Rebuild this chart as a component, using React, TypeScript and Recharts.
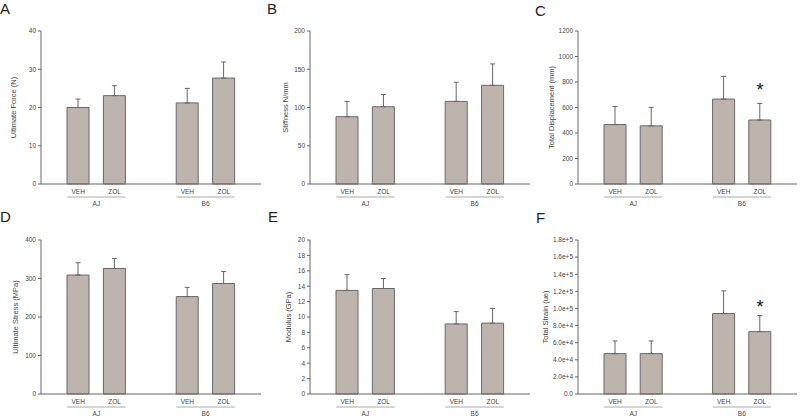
import React from 'react';
import { BarChart, Bar, XAxis, YAxis, ErrorBar, ReferenceDot } from 'recharts';

const groups = ['AJ', 'B6'];
const treatments = ['VEH', 'ZOL'];

const forceMean = [20.0, 23.1, 21.2, 27.7];
const forceErr = [2.2, 2.6, 3.8, 4.2];
const stiffMean = [88, 101, 108, 129];
const stiffErr = [20, 16, 25, 28];
const dispMean = [466, 456, 666, 502];
const dispErr = [142, 145, 178, 130];
const dispStar = [null, null, null, 770];
const stressMean = [309, 326, 253, 287];
const stressErr = [32, 26, 24, 31];
const modMean = [13.45, 13.7, 9.1, 9.2];
const modErr = [2.05, 1.3, 1.6, 1.9];
const strainMean = [47200, 47200, 94000, 72900];
const strainErr = [14800, 14800, 26500, 18800];
const strainStar = [null, null, null, 106400];

const forceTicks = [0, 10, 20, 30, 40];
const stiffTicks = [0, 50, 100, 150, 200];
const dispTicks = [0, 200, 400, 600, 800, 1000, 1200];
const stressTicks = [0, 100, 200, 300, 400];
const modTicks = [0, 2, 4, 6, 8, 10, 12, 14, 16, 18, 20];
const strainTicks = [0, 20000, 40000, 60000, 80000, 100000, 120000, 140000, 160000, 180000];

const FONT = '"Liberation Sans", Arial, sans-serif';
const BAR_FILL = '#bdb4ad';
const BAR_STROKE = '#6b6764';
const AXIS = '#666';
const TEXT = '#444';
const PAD = 19;

const buildRows = (means: number[], errs: number[], stars?: (number | null)[]) => {
  const rows: any[] = [];
  groups.forEach((g, gi) => {
    if (gi > 0) rows.push({ key: 'gap' });
    treatments.forEach((t, ti) => {
      const i = gi * treatments.length + ti;
      rows.push({
        key: `${g}|${t}`,
        mean: means[i],
        err: [0, errs[i]],
        star: stars ? stars[i] : null,
      });
    });
  });
  return rows;
};

const GroupTick = (props: any) => {
  const { x, y, payload, band } = props;
  const [g, t] = String(payload.value).split('|');
  if (!t) return null;
  const first = t === treatments[0];
  return (
    <g>
      <text x={x} y={y + 10} textAnchor="middle" fontSize={6.5} fill={TEXT} fontFamily={FONT}>
        {t}
      </text>
      <line
        x1={first ? x - 11 : x - band / 2}
        x2={first ? x + band / 2 : x + 11}
        y1={y + 13}
        y2={y + 13}
        stroke="#aaa"
        strokeWidth={1}
      />
      {first && (
        <text x={x + band / 2} y={y + 21.5} textAnchor="middle" fontSize={6.5} fill={TEXT} fontFamily={FONT}>
          {g}
        </text>
      )}
    </g>
  );
};

const AxisTitle = (props: any) => {
  const { viewBox, text, dist } = props;
  const cx = viewBox.x + dist;
  const cy = viewBox.y + viewBox.height / 2;
  return (
    <text
      x={cx}
      y={cy}
      transform={`rotate(-90 ${cx} ${cy})`}
      textAnchor="middle"
      dominantBaseline="central"
      fontSize={7.5}
      fill={TEXT}
      fontFamily={FONT}
    >
      {text}
    </text>
  );
};

const StarShape = (props: any) => (
  <text x={props.cx} y={props.cy + 10} textAnchor="middle" fontSize={18} fill="#111" fontFamily={FONT}>
    *
  </text>
);

type PanelProps = {
  letter: string;
  yLabel: string;
  means: number[];
  errs: number[];
  stars?: (number | null)[];
  ticks: number[];
  left: number;
  top: number;
  plotW: number;
  height: number;
  marginTop: number;
  xAxisH: number;
  labelDist: number;
  letterX: number;
  letterY: number;
  fmt?: (v: number) => string;
};

const Panel = (p: PanelProps) => {
  const data = buildRows(p.means, p.errs, p.stars);
  const band = (p.plotW - 2 * PAD) / 5;
  const width = 40 + p.plotW + 1;
  return (
    <>
      <div
        style={{
          position: 'absolute',
          left: p.letterX,
          top: p.letterY,
          fontSize: 15,
          fontFamily: FONT,
          color: '#222',
          lineHeight: '15px',
        }}
      >
        {p.letter}
      </div>
      <div style={{ position: 'absolute', left: p.left, top: p.top }}>
        <BarChart
          width={width}
          height={p.height}
          data={data}
          margin={{ top: p.marginTop, right: 1, bottom: 0, left: 0 }}
        >
          <XAxis
            dataKey="key"
            interval={0}
            tickLine={false}
            tickSize={0}
            tickMargin={0}
            height={p.xAxisH}
            padding={{ left: PAD, right: PAD }}
            axisLine={{ stroke: AXIS }}
            tick={(tp: any) => <GroupTick {...tp} band={band} />}
          />
          <YAxis
            width={40}
            domain={[0, p.ticks[p.ticks.length - 1]]}
            ticks={p.ticks}
            interval={0}
            tickSize={3}
            tickMargin={2}
            axisLine={{ stroke: AXIS }}
            tickLine={{ stroke: AXIS }}
            tickFormatter={p.fmt}
            tick={{ fontSize: 6.5, fill: TEXT, fontFamily: FONT }}
            label={<AxisTitle text={p.yLabel} dist={p.labelDist} />}
          />
          <Bar
            dataKey="mean"
            fill={BAR_FILL}
            stroke={BAR_STROKE}
            strokeWidth={1}
            barSize={22}
            isAnimationActive={false}
          >
            <ErrorBar dataKey="err" width={2.5} stroke="#666" strokeWidth={1} direction="y" />
          </Bar>
          {data
            .filter((r) => r.star != null)
            .map((r) => (
              <ReferenceDot key={r.key} x={r.key} y={r.star} r={0} shape={StarShape} />
            ))}
        </BarChart>
      </div>
    </>
  );
};

const sciFmt = (v: number) => (v === 0 ? '0.0' : v.toExponential(1));

export default function App() {
  const top = { top: 0, height: 210, marginTop: 31, xAxisH: 26 };
  const bot = { top: 205, height: 212, marginTop: 35, xAxisH: 23 };
  return (
    <div style={{ position: 'absolute', left: 0, top: 0, width: 800, height: 417, background: '#fff' }}>
      <Panel letter="A" yLabel="Ultimate Force (N)" means={forceMean} errs={forceErr} ticks={forceTicks}
        left={1} plotW={220} labelDist={12.3} letterX={0} letterY={1} {...top} />
      <Panel letter="B" yLabel="Stiffness N/mm" means={stiffMean} errs={stiffErr} ticks={stiffTicks}
        left={270} plotW={220} labelDist={15.7} letterX={267} letterY={1} {...top} />
      <Panel letter="C" yLabel="Total Displacement (mm)" means={dispMean} errs={dispErr} stars={dispStar}
        ticks={dispTicks} left={538} plotW={219} labelDist={13.7} letterX={535} letterY={3} {...top} />
      <Panel letter="D" yLabel="Ultimate Stress (MPa)" means={stressMean} errs={stressErr} ticks={stressTicks}
        left={1} plotW={220} labelDist={14} letterX={0} letterY={209} {...bot} />
      <Panel letter="E" yLabel="Modulus (GPa)" means={modMean} errs={modErr} ticks={modTicks}
        left={270} plotW={220} labelDist={18.3} letterX={268} letterY={209} {...bot} />
      <Panel letter="F" yLabel="Total Strain (ue)" means={strainMean} errs={strainErr} stars={strainStar}
        ticks={strainTicks} left={538} plotW={219} labelDist={7} letterX={536} letterY={210} fmt={sciFmt} {...bot} />
    </div>
  );
}
